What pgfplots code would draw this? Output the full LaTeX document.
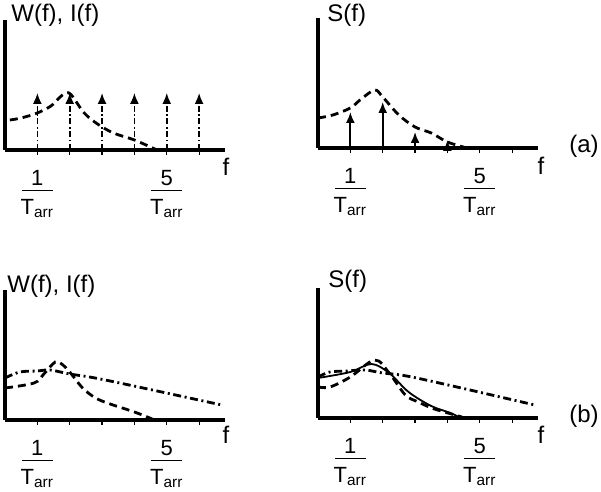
\documentclass[border=0pt]{standalone}
\usepackage{pgfplots}
\pgfplotsset{compat=1.18}
\usepackage{fontspec}
\setmainfont{Liberation Sans}
\usetikzlibrary{arrows.meta}
\newcommand{\frlab}[1]{\vbox{\offinterlineskip\halign{\hfil##\hfil\cr #1\cr\noalign{\kern2.2pt}\rule{15.5pt}{0.6pt}\cr\noalign{\kern4pt}T\textsubscript{arr}\cr}}}
\pgfplotsset{
  panel/.style={
    scale only axis, width=110pt, height=65pt,
    xmin=0, xmax=6.8, ymin=0, ymax=130,
    axis lines=left, axis line style={-, line width=1.6pt},
    xtick={1,2,3,4,5,6},
    xticklabels={{\frlab{1}},{},{},{},{\frlab{5}},{}},
    ytick=\empty, tick align=outside, major tick length=2.5pt,
    every tick/.style={black, line width=0.6pt},
    xticklabel style={font=\fontsize{11}{13}\selectfont, anchor=north, inner sep=0pt, yshift=-7.5pt},
    clip=false, anchor=south west,
  },
  dsh/.style={black, line width=1.4pt, dash pattern=on 4pt off 2.5pt, smooth, tension=0.55},
  dsd/.style={black, line width=1.4pt, dash pattern=on 4pt off 1.8pt on 1pt off 1.8pt, smooth, tension=0.55},
  sol/.style={black, line width=0.9pt, smooth, tension=0.55},
}
\begin{document}
\begin{tikzpicture}
\path[use as bounding box] (0,0) rectangle (300.5pt,246pt);
% (a) left
\begin{axis}[panel, at={(2.5pt,171pt)}]
\addplot[dsh] coordinates {(0.15,30) (0.5,32) (1,37) (1.42,44) (1.67,52) (1.88,57) (2.05,55) (2.45,37) (2.86,26) (3.35,17) (4,10) (4.7,0)};
\addplot[black, line width=0.8pt, dash pattern=on 3pt off 1.3pt on 0.8pt off 1.3pt,
  quiver={u=0, v=\thisrow{v}}, -{Latex[length=5.5pt,width=4.5pt]}] table {
x y v
1 0 57
2 0 57
3 0 57
4 0 57
5 0 57
6 0 57
};
\end{axis}
% (a) right
\begin{axis}[panel, at={(159pt,172pt)}]
\addplot[dsh] coordinates {(0,30) (0.46,33) (1,40) (1.3,48) (1.75,58) (2,51) (2.5,33) (3,21) (3.5,15) (4,6) (4.6,0)};
\addplot[black, line width=0.9pt,
  quiver={u=0, v=\thisrow{v}}, -{Latex[length=5.5pt,width=4.5pt]}] table {
x y v
1 0 36
2 0 46
3 0 16
4 0 8
};
\end{axis}
% (b) left
\begin{axis}[panel, at={(2.5pt,36pt)}]
\addplot[dsh] coordinates {(0,32) (0.9,37) (1.2,46) (1.55,58) (1.75,56) (2,48) (2.4,32) (2.8,22) (3.25,16) (4,8) (4.55,1)};
\addplot[dsd] coordinates {(0,42) (0.46,48) (1,49) (1.4,50) (2,46) (3.1,40) (6.7,15)};
\end{axis}
% (b) right
\begin{axis}[panel, at={(159pt,37pt)}]
\addplot[dsh] coordinates {(0,31) (0.37,31) (1,41) (1.75,58) (2.2,45) (2.7,23) (3.1,16) (3.6,9) (4.45,1)};
\addplot[sol] coordinates {(0,40) (1,46) (1.65,54) (2.2,45) (2.8,26) (3.5,12) (4.1,5) (4.4,0)};
\addplot[dsd] coordinates {(0,41) (0.37,46) (0.9,47) (1.45,48) (2,45) (3.05,40) (6.7,13)};
\end{axis}
\begin{scope}[font=\fontsize{12}{14}\selectfont]
\node[anchor=west, inner sep=0pt] at (5.5pt,238.5pt) {W(f), I(f)};
\node[anchor=west, inner sep=0pt] at (163.5pt,238.5pt) {S(f)};
\node[anchor=west, inner sep=0pt] at (3.5pt,103pt) {W(f), I(f)};
\node[anchor=west, inner sep=0pt] at (164pt,105.5pt) {S(f)};
\node[inner sep=0pt] at (113pt,162.5pt) {f};
\node[inner sep=0pt] at (270.5pt,163pt) {f};
\node[inner sep=0pt] at (113pt,28.5pt) {f};
\node[inner sep=0pt] at (270.5pt,28.5pt) {f};
\node[inner sep=0pt] at (292pt,173pt) {(a)};
\node[inner sep=0pt] at (292pt,38pt) {(b)};
\end{scope}
\end{tikzpicture}
\end{document}
